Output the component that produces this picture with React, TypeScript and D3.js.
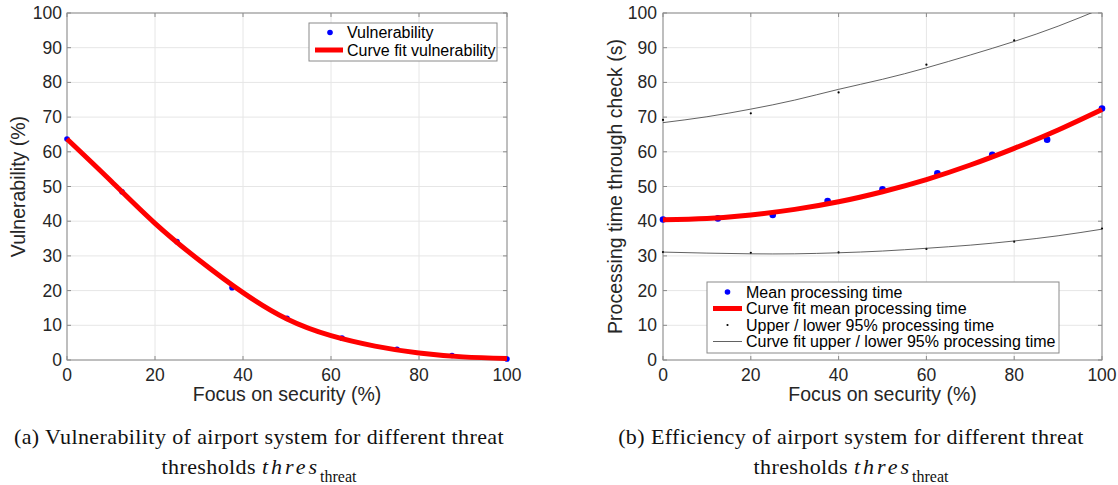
import React from 'react';
import * as d3 from 'd3';

// ---------- data ----------
const xTicks = [0, 20, 40, 60, 80, 100];
const yTicks = [0, 10, 20, 30, 40, 50, 60, 70, 80, 90, 100];

const sampleX = [0, 12.5, 25, 37.5, 50, 62.5, 75, 87.5, 100];
const vulnerability = [63.7, 48.5, 34.1, 20.8, 12.0, 6.3, 3.1, 1.3, 0.3];

const fitX = [0, 10, 20, 30, 40, 50, 60, 70, 80, 90, 100];
const vulnerabilityFit = [63.7, 51.6, 39.4, 28.8, 19.4, 11.8, 7.0, 4.0, 2.0, 0.9, 0.4];

const meanTime = [40.5, 40.8, 41.8, 45.8, 49.2, 53.8, 59.1, 63.5, 72.5];
const meanTimeFit = [40.4, 40.8, 41.8, 43.4, 45.6, 48.5, 52.0, 56.2, 61.0, 66.3, 72.2];

const boundX = [0, 20, 40, 60, 80, 100];
const upperTime = [69.2, 71.1, 77.1, 85.1, 92.1, 104.0];
const lowerTime = [31.1, 30.9, 31.0, 32.0, 34.1, 37.9];
const upperTimeFit = [68.4, 70.1, 72.3, 74.9, 78.0, 80.9, 84.2, 87.9, 91.8, 96.2, 101.3];
const lowerTimeFit = [31.1, 30.8, 30.6, 30.6, 30.9, 31.4, 32.2, 33.1, 34.3, 35.8, 37.7];

const legendLeft = ['Vulnerability', 'Curve fit vulnerability'];
const legendRight = [
  'Mean processing time',
  'Curve fit mean processing time',
  'Upper / lower 95% processing time',
  'Curve fit upper / lower 95% processing time',
];

// ---------- style ----------
const SANS = '"Liberation Sans", Arial, Helvetica, sans-serif';
const SERIF = '"Liberation Serif", "Times New Roman", serif';
const TXT = '#262626';
const GRID = '#e6e6e6';
const AXIS = '#8a8a8a';
const TOP = 13;
const BOTTOM = 360;

type Pt = [number, number];
const zip = (xs: number[], ys: number[]): Pt[] => xs.map((x, i) => [x, ys[i]]);

function Frame({ x, y, id, yLabel, yLabelX, tickRight, children }: any) {
  const [x0, x1] = x.range();
  const [y0, y1] = y.range();
  return (
    <g>
      <defs>
        <clipPath id={id}>
          <rect x={x0 - 6} y={y1} width={x1 - x0 + 12} height={y0 - y1 + 6} />
        </clipPath>
      </defs>
      {xTicks.map((t) => (
        <line key={'gx' + t} x1={x(t)} x2={x(t)} y1={y0} y2={y1} stroke={GRID} strokeWidth={1} />
      ))}
      {yTicks.map((t) => (
        <line key={'gy' + t} x1={x0} x2={x1} y1={y(t)} y2={y(t)} stroke={GRID} strokeWidth={1} />
      ))}
      <rect x={x0} y={y1} width={x1 - x0} height={y0 - y1} fill="none" stroke={AXIS} strokeWidth={1} />
      {xTicks.map((t) => (
        <g key={'tx' + t}>
          <line x1={x(t)} x2={x(t)} y1={y0} y2={y0 - 4} stroke={AXIS} />
          <line x1={x(t)} x2={x(t)} y1={y1} y2={y1 + 4} stroke={AXIS} />
          <text x={x(t)} y={y0 + 15} textAnchor="middle" dominantBaseline="central" fontFamily={SANS} fontSize={17.5} fill={TXT}>
            {t}
          </text>
        </g>
      ))}
      {yTicks.map((t) => (
        <g key={'ty' + t}>
          <line x1={x0} x2={x0 + 4} y1={y(t)} y2={y(t)} stroke={AXIS} />
          <line x1={x1} x2={x1 - 4} y1={y(t)} y2={y(t)} stroke={AXIS} />
          <text x={tickRight} y={y(t)} textAnchor="end" dominantBaseline="central" fontFamily={SANS} fontSize={17.5} fill={TXT}>
            {t}
          </text>
        </g>
      ))}
      <text x={(x0 + x1) / 2} y={y0 + 41} textAnchor="middle" fontFamily={SANS} fontSize={19.5} fill={TXT}>
        Focus on security (%)
      </text>
      <text
        transform={`translate(${yLabelX},${(y0 + y1) / 2}) rotate(-90)`}
        textAnchor="middle"
        dominantBaseline="central"
        fontFamily={SANS}
        fontSize={19.5}
        fill={TXT}
      >
        {yLabel}
      </text>
      <g clipPath={`url(#${id})`}>{children}</g>
    </g>
  );
}

function Caption({ cx, label, line1 }: any) {
  return (
    <g fontFamily={SERIF} fill="#111">
      <text x={cx} y={444} textAnchor="middle" fontSize={22} letterSpacing={0.4}>
        {label} {line1}
      </text>
      <text x={cx} y={474} textAnchor="middle" fontSize={22} letterSpacing={0.4}>
        thresholds{' '}
        <tspan fontStyle="italic" letterSpacing={3}>thres</tspan>
        <tspan fontSize={16} dy={8} letterSpacing={0}>threat</tspan>
      </text>
    </g>
  );
}

export default function App() {
  const xL = d3.scaleLinear().domain([0, 100]).range([67, 507]);
  const yL = d3.scaleLinear().domain([0, 100]).range([BOTTOM, TOP]);
  const xR = d3.scaleLinear().domain([0, 100]).range([663, 1102]);
  const yR = d3.scaleLinear().domain([0, 100]).range([BOTTOM, TOP]);

  const lineL = d3.line<Pt>().x((d) => xL(d[0])).y((d) => yL(d[1])).curve(d3.curveNatural);
  const lineR = d3.line<Pt>().x((d) => xR(d[0])).y((d) => yR(d[1])).curve(d3.curveNatural);

  return (
    <svg width={1118} height={485} style={{ position: 'absolute', left: 0, top: 0, background: '#fff' }}>
      <rect width={1118} height={485} fill="#fff" />
      {/* Left panel */}
      <Frame x={xL} y={yL} id="clipL" yLabel="Vulnerability (%)" yLabelX={18} tickRight={62}>
        {zip(sampleX, vulnerability).map((d, i) => (
          <circle key={i} cx={xL(d[0])} cy={yL(d[1])} r={2.8} fill="#0000ff" />
        ))}
        <path d={lineL(zip(fitX, vulnerabilityFit)) || ''} fill="none" stroke="#ff0000" strokeWidth={5} />
      </Frame>
      <g fontFamily={SANS} fontSize={16} fill="#000">
        <rect x={309} y={23} width={188} height={38} fill="#fff" stroke={AXIS} strokeWidth={1} />
        <circle cx={330} cy={32.5} r={2.8} fill="#0000ff" />
        <line x1={315} x2={343} y1={50} y2={50} stroke="#ff0000" strokeWidth={5} />
        <text x={347} y={32.5} dominantBaseline="central">{legendLeft[0]}</text>
        <text x={347} y={50} dominantBaseline="central">{legendLeft[1]}</text>
      </g>

      {/* Right panel */}
      <Frame x={xR} y={yR} id="clipR" yLabel="Processing time through check (s)" yLabelX={615} tickRight={657}>
        {zip(boundX, upperTime).map((d, i) => (
          <circle key={'u' + i} cx={xR(d[0])} cy={yR(d[1])} r={1.1} fill="#000" />
        ))}
        {zip(boundX, lowerTime).map((d, i) => (
          <circle key={'l' + i} cx={xR(d[0])} cy={yR(d[1])} r={1.1} fill="#000" />
        ))}
        <path d={lineR(zip(fitX, upperTimeFit)) || ''} fill="none" stroke="#3a3a3a" strokeWidth={0.8} />
        <path d={lineR(zip(fitX, lowerTimeFit)) || ''} fill="none" stroke="#3a3a3a" strokeWidth={0.8} />
        {zip(sampleX, meanTime).map((d, i) => (
          <circle key={'m' + i} cx={xR(d[0])} cy={yR(d[1])} r={3.3} fill="#0000ff" />
        ))}
        <path d={lineR(zip(fitX, meanTimeFit)) || ''} fill="none" stroke="#ff0000" strokeWidth={5} />
      </Frame>
      <g fontFamily={SANS} fontSize={16} fill="#000">
        <rect x={707} y={282} width={352} height={71} fill="#fff" stroke={AXIS} strokeWidth={1} />
        <circle cx={727.5} cy={292} r={2.8} fill="#0000ff" />
        <line x1={713} x2={742} y1={308.5} y2={308.5} stroke="#ff0000" strokeWidth={5} />
        <circle cx={727.5} cy={325} r={1.1} fill="#000" />
        <line x1={713} x2={742} y1={341.5} y2={341.5} stroke="#3a3a3a" strokeWidth={0.8} />
        {legendRight.map((t, i) => (
          <text key={t} x={746} y={292 + i * 16.5} dominantBaseline="central">{t}</text>
        ))}
      </g>

      <Caption cx={259} label="(a)" line1="Vulnerability of airport system for different threat" />
      <Caption cx={851} label="(b)" line1="Efficiency of airport system for different threat" />
    </svg>
  );
}
